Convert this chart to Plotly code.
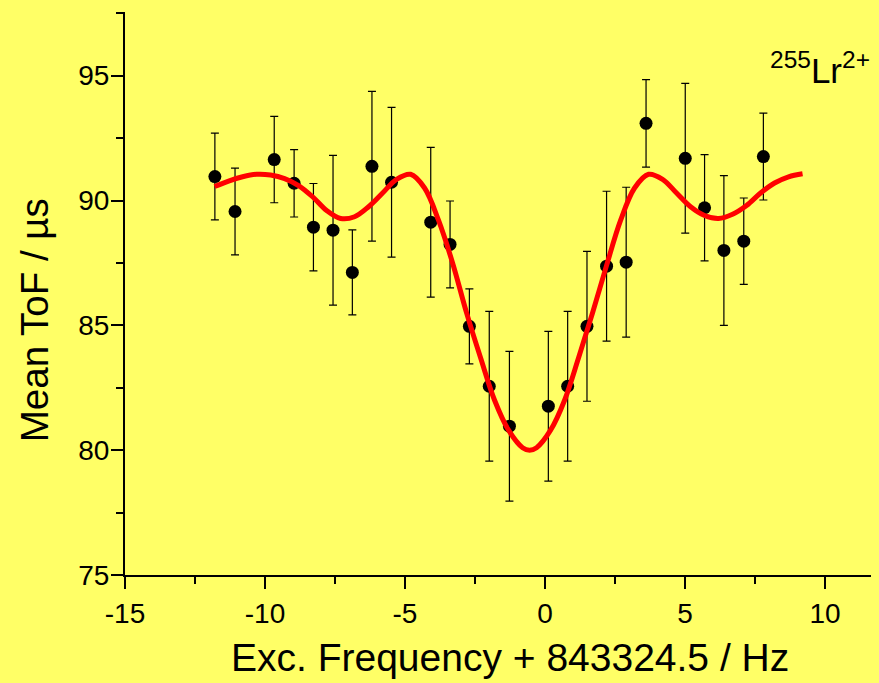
import plotly.graph_objects as go

# Measured data points
freq = [-11.79, -11.07, -9.67, -8.96, -8.27, -7.57, -6.88, -6.18, -5.48, -4.08,
        -3.39, -2.70, -1.99, -1.27, 0.12, 0.81, 1.50, 2.20, 2.90, 3.61,
        5.01, 5.70, 6.39, 7.10, 7.80]
tof = [90.96, 89.56, 91.64, 90.69, 88.93, 88.81, 87.12, 91.37, 90.73, 89.13,
       88.24, 84.96, 82.56, 80.96, 81.76, 82.56, 84.96, 87.37, 87.53, 93.09,
       91.69, 89.71, 88.00, 88.37, 91.76]
tof_err = [1.74, 1.74, 1.73, 1.35, 1.75, 3.0, 1.7, 3.0, 3.0, 3.0,
           1.74, 1.5, 3.0, 3.0, 3.0, 3.0, 3.0, 3.0, 3.0, 1.75,
           3.0, 2.13, 3.0, 1.73, 1.74]

# Fit curve
fit_x = [-11.8, -11.3, -10.8, -10.3, -9.8, -9.3, -8.8, -8.3, -7.8, -7.3,
         -6.8, -6.3, -5.8, -5.3, -4.8, -4.3, -3.8, -3.3, -2.8, -2.3,
         -1.8, -1.3, -0.8, -0.55, -0.3, 0.2, 0.7, 1.2, 1.7, 2.2,
         2.7, 3.2, 3.7, 4.2, 4.7, 5.2, 5.7, 6.2, 6.7, 7.2,
         7.7, 8.2, 8.7, 9.2]
fit_y = [90.56, 90.78, 90.95, 91.05, 91.02, 90.88, 90.6, 90.15, 89.6, 89.28,
         89.35, 89.75, 90.3, 90.85, 91.05, 90.5, 89.2, 87.5, 85.5, 83.7,
         82.0, 80.8, 80.1, 80.0, 80.1, 80.8, 82.0, 83.7, 85.5, 87.4,
         89.2, 90.5, 91.05, 90.85, 90.3, 89.75, 89.4, 89.28, 89.45, 89.8,
         90.3, 90.7, 90.95, 91.07]

x_ticks = [-15, -10, -5, 0, 5, 10]
y_ticks = [75, 80, 85, 90, 95]

BG = "#ffff66"
FONT = "Liberation Sans, Arial, sans-serif"

fig = go.Figure()
fig.add_trace(go.Scatter(
    x=freq, y=tof, mode="markers",
    marker=dict(color="black", size=13),
    error_y=dict(type="data", array=tof_err, visible=True,
                 color="black", thickness=1.2, width=4),
    showlegend=False, cliponaxis=False))
fig.add_trace(go.Scatter(
    x=fit_x, y=fit_y, mode="lines",
    line=dict(color="#ff0000", width=5, shape="spline", smoothing=1.0),
    showlegend=False))

axis_common = dict(
    ticks="outside", ticklen=12, tickwidth=2, tickcolor="black",
    showline=True, linecolor="black", linewidth=2,
    showgrid=False, zeroline=False,
    minor=dict(dtick=2.5, tick0=0, ticks="outside", ticklen=7,
               tickwidth=2, tickcolor="black", showgrid=False),
    tickfont=dict(size=28),
)

fig.update_layout(
    width=871, height=675,
    paper_bgcolor=BG, plot_bgcolor=BG,
    margin=dict(l=117, r=0, t=4, b=108),
    font=dict(family=FONT, color="black", size=28),
    xaxis=dict(range=[-15, 11.93], tickvals=x_ticks, ticktext=[str(v) for v in x_ticks],
               **axis_common),
    yaxis=dict(range=[75, 97.55], tickvals=y_ticks, ticktext=[str(v) for v in y_ticks],
               ticklabelstandoff=-4, **axis_common),
    annotations=[
        dict(text="Exc. Frequency + 843324.5 / Hz", xref="paper", yref="paper",
             x=0.5106, y=-0.1474, xanchor="center", yanchor="middle",
             showarrow=False, font=dict(size=39)),
        dict(text="Mean ToF / \u00b5s", xref="paper", yref="paper",
             x=-0.119, y=0.453, xanchor="center", yanchor="middle",
             textangle=-90, showarrow=False, font=dict(size=38.5)),
        dict(text="<sup>255</sup>Lr<sup>2+</sup>", xref="paper", yref="paper",
             x=0.991, y=0.9005, xanchor="right", yanchor="middle",
             showarrow=False, font=dict(size=35)),
    ],
)

fig.write_html("out.html",
               post_script="document.body.style.background='#ffff66';"
                           "document.documentElement.style.background='#ffff66';")
